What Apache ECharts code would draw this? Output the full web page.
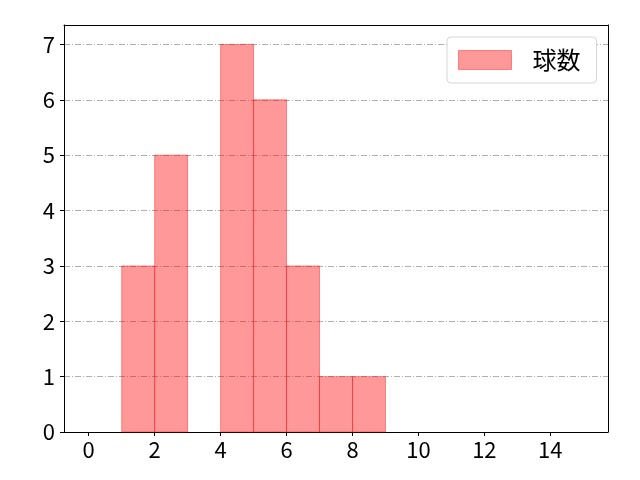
<!DOCTYPE html>
<html><head><meta charset="utf-8">
<script src="https://cdn.jsdelivr.net/npm/echarts@6/dist/echarts.min.js"></script>
<style>html,body{margin:0;padding:0;background:#fff}#c{width:640px;height:480px}</style>
</head><body><div id="c"></div>
<script>
const binEdges = [0,1,2,3,4,5,6,7,8,9,10,11,12,13,14,15];
const counts   = [0,3,5,0,7,6,3,1,1,0,0,0,0,0,0];
const seriesName = '球数';
const xTicks = [0,2,4,6,8,10,12,14];
const yTicks = [0,1,2,3,4,5,6,7];

const data = counts.map((c,i)=>[binEdges[i], binEdges[i+1], c]);
const font = '"Noto Sans CJK JP", "DejaVu Sans", sans-serif';
const chart = echarts.init(document.getElementById('c'), null, {renderer:'canvas'});
const frameAxis = {type:'value', axisLine:{show:true, onZero:false, lineStyle:{color:'#000'}},
  axisTick:{show:false}, axisLabel:{show:false}, splitLine:{show:false}};
chart.setOption({
  animation:false,
  grid:{left:64, right:32, top:25, bottom:48, show:false},
  xAxis:[{type:'value', min:-0.75, max:15.75,
    axisLine:{show:true, onZero:false, lineStyle:{color:'#000'}},
    axisTick:{show:true, length:4, lineStyle:{color:'#000'}, customValues:xTicks},
    axisLabel:{color:'#000', fontSize:22, fontFamily:font, margin:7, customValues:xTicks},
    splitLine:{show:false}},
    Object.assign({}, frameAxis, {position:'top', min:-0.75, max:15.75})],
  yAxis:[{type:'value', min:0, max:7.35,
    axisLine:{show:true, onZero:false, lineStyle:{color:'#000'}},
    axisTick:{show:true, length:4, lineStyle:{color:'#000'}, customValues:yTicks},
    axisLabel:{color:'#000', fontSize:22, fontFamily:font, margin:9, customValues:yTicks},
    splitLine:{show:true, lineStyle:{color:'#b0b0b0', width:1, type:[6,2,1,2]}}},
    Object.assign({}, frameAxis, {position:'right', min:0, max:7.35})],
  legend:{show:true, left:447, top:37, orient:'horizontal',
    padding:[11,16,11,11], itemWidth:53, itemHeight:19, itemGap:10,
    borderColor:'#d6d6d6', borderWidth:1, borderRadius:4, backgroundColor:'#fff',
    textStyle:{fontSize:24, fontFamily:font, color:'#000', padding:[0,0,0,16]},
    data:[{name:seriesName, icon:'rect', itemStyle:{color:'rgba(255,0,0,0.4)', borderColor:'rgba(255,0,0,0.4)', borderWidth:1}}]},
  series:[{
    name:seriesName, type:'custom', xAxisIndex:0, yAxisIndex:0,
    itemStyle:{color:'rgba(255,0,0,0.4)'},
    renderItem:(params, api)=>{
      const x0=api.value(0), x1=api.value(1), y=api.value(2);
      if(!y) return null;
      const p0=api.coord([x0,y]), p1=api.coord([x1,0]);
      return {type:'rect', shape:{x:p0[0], y:p0[1], width:p1[0]-p0[0], height:p1[1]-p0[1]},
        style:{fill:'rgba(255,0,0,0.4)', stroke:'rgba(255,0,0,0.4)', lineWidth:1}};
    },
    encode:{x:[0,1], y:2},
    data:data
  }]
});
</script></body></html>
